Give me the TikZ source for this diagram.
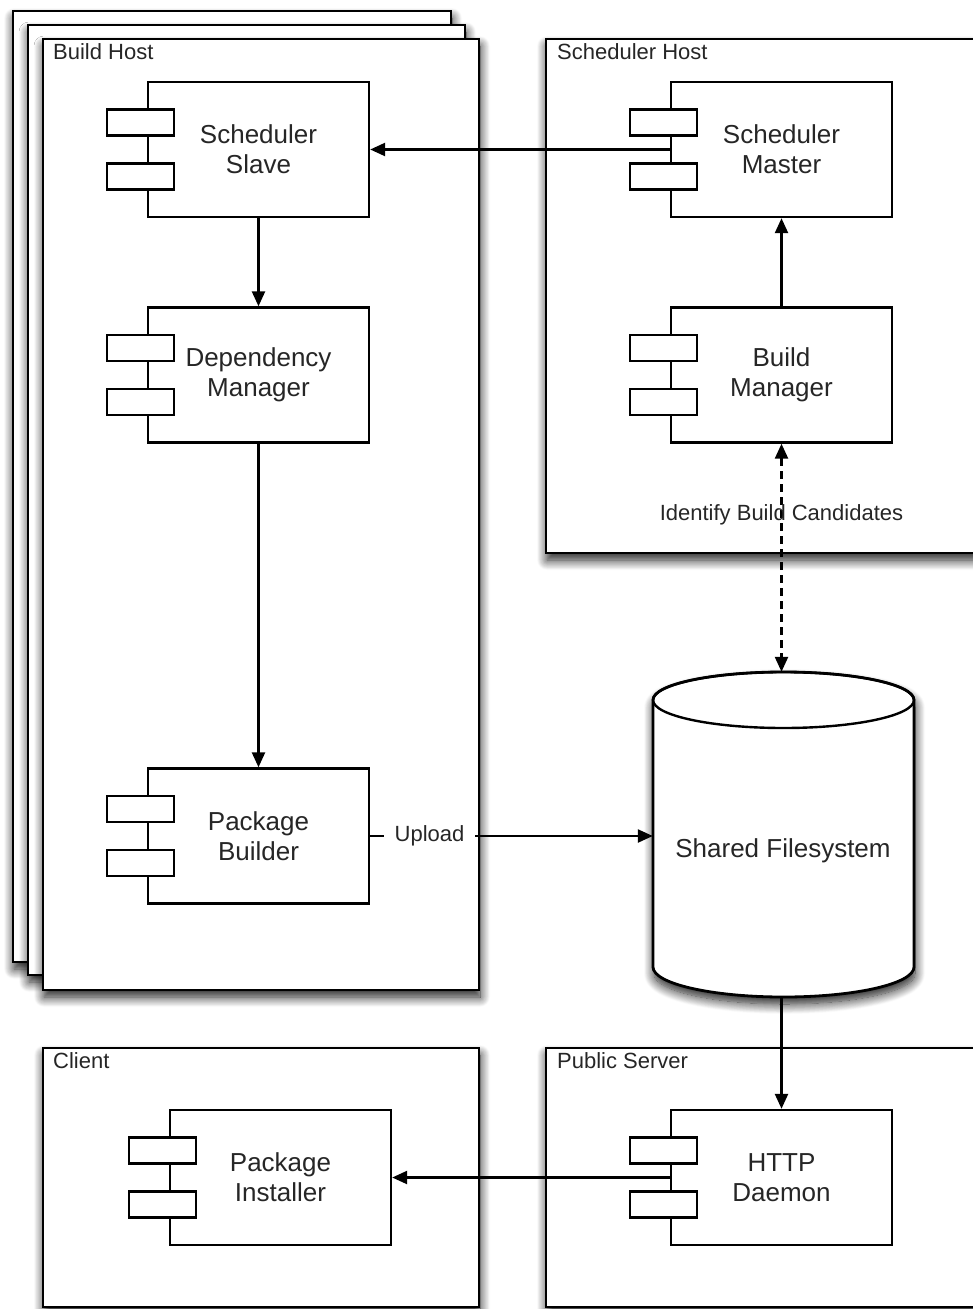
\documentclass[tikz,border=0pt]{standalone}
\usepackage{fontspec}
\setmainfont{Liberation Sans}
\usetikzlibrary{arrows.meta,shadows.blur,calc}
\newcommand\component[3]{%
  \node[comp] (#1) at (#2) {#3};
  \draw[tab] (#1.west) ++(-40,-40) rectangle ++(67,26);
  \draw[tab] (#1.west) ++(-40,14) rectangle ++(67,26);
}
\begin{document}
\begin{tikzpicture}[x=1pt,y=-1pt,
  host/.style={draw=black, line width=2.8pt, fill=white,
    blur shadow={shadow xshift=1pt, shadow yshift=-7pt, shadow blur radius=10pt, shadow blur steps=14, shadow opacity=90}},
  comp/.style={draw=black, line width=2.4pt, fill=white, minimum width=221pt, minimum height=135pt,
    inner sep=0pt, align=center, font=\fontsize{26}{30}\selectfont, text=black!85},
  tab/.style={draw=black, line width=2.4pt, fill=white},
  hostlabel/.style={anchor=west, inner sep=0pt, font=\fontsize{22}{24}\selectfont, text=black!85},
  small/.style={font=\fontsize{22}{24}\selectfont, text=black!85},
  arr/.style={line width=2.4pt, draw=black, -{Triangle[length=15pt,width=13pt]}},
  darr/.style={line width=2.4pt, draw=black, dash pattern=on 8pt off 5pt,
    {Triangle[length=15pt,width=13pt]}-{Triangle[length=15pt,width=13pt]}}
]
\useasboundingbox (0,0) rectangle (972,1309);

% hosts
\path[host] (13,11) rectangle (451,962);
\path[host] (28,25) rectangle (465,975);
\path[host] (43,39) rectangle (479,990);
\path[host] (546,39) rectangle (990,553);
\path[host] (43,1048) rectangle (479,1307);
\path[host] (546,1048) rectangle (990,1307);

\node[hostlabel] (lbuild) at (53,52) {Build Host};
\node[hostlabel] (lsched) at (557,52) {Scheduler Host};
\node[hostlabel] (lclient) at (53,1061) {Client};
\node[hostlabel] (lpublic) at (557,1061) {Public Server};

% cylinder
\path[host] (653,700) -- (653,967)
  .. controls (653,983.6) and (711.4,997) .. (783.5,997)
  .. controls (855.6,997) and (914,983.6) .. (914,967)
  -- (914,700)
  .. controls (914,684.5) and (855.6,672) .. (783.5,672)
  .. controls (711.4,672) and (653,684.5) .. (653,700) -- cycle;
\draw[draw=black, line width=2.4pt] (783.5,700) ellipse [x radius=130.5, y radius=28];
\node[minimum width=261pt, minimum height=325pt, inner sep=0pt] (fs) at (783.5,834.5) {};
\node[font=\fontsize{26}{30}\selectfont, text=black!85] (fslabel) at (783,851) {Shared Filesystem};

% components
\component{slave}{258.5,149.5}{Scheduler\\Slave}
\component{dep}{258.5,375}{Dependency\\Manager}
\component{builder}{258.5,836}{Package\\Builder}
\component{master}{781.5,149.5}{Scheduler\\Master}
\component{bmgr}{781.5,375}{Build\\Manager}
\component{http}{781.5,1177.5}{HTTP\\Daemon}
\component{installer}{280.5,1177.5}{Package\\Installer}

% connectors
\draw[arr] (master.west) -- (slave.east);
\draw[arr] (slave.south) -- (dep.north);
\draw[arr] (dep.south) -- (builder.north);
\draw[arr] (bmgr.north) -- (master.south);
\draw[darr] (bmgr.south) -- (bmgr.south |- fs.north)
  node[small, pos=0.31] {Identify Build Candidates};
\draw[arr] (builder.east) -- (builder.east -| fs.west)
  node[small, pos=0.21, fill=white, inner xsep=11pt, inner ysep=2pt] {Upload};
\draw[arr] (http.north |- fs.south) -- (http.north);
\draw[arr] (http.west) -- (installer.east);
\end{tikzpicture}
\end{document}
